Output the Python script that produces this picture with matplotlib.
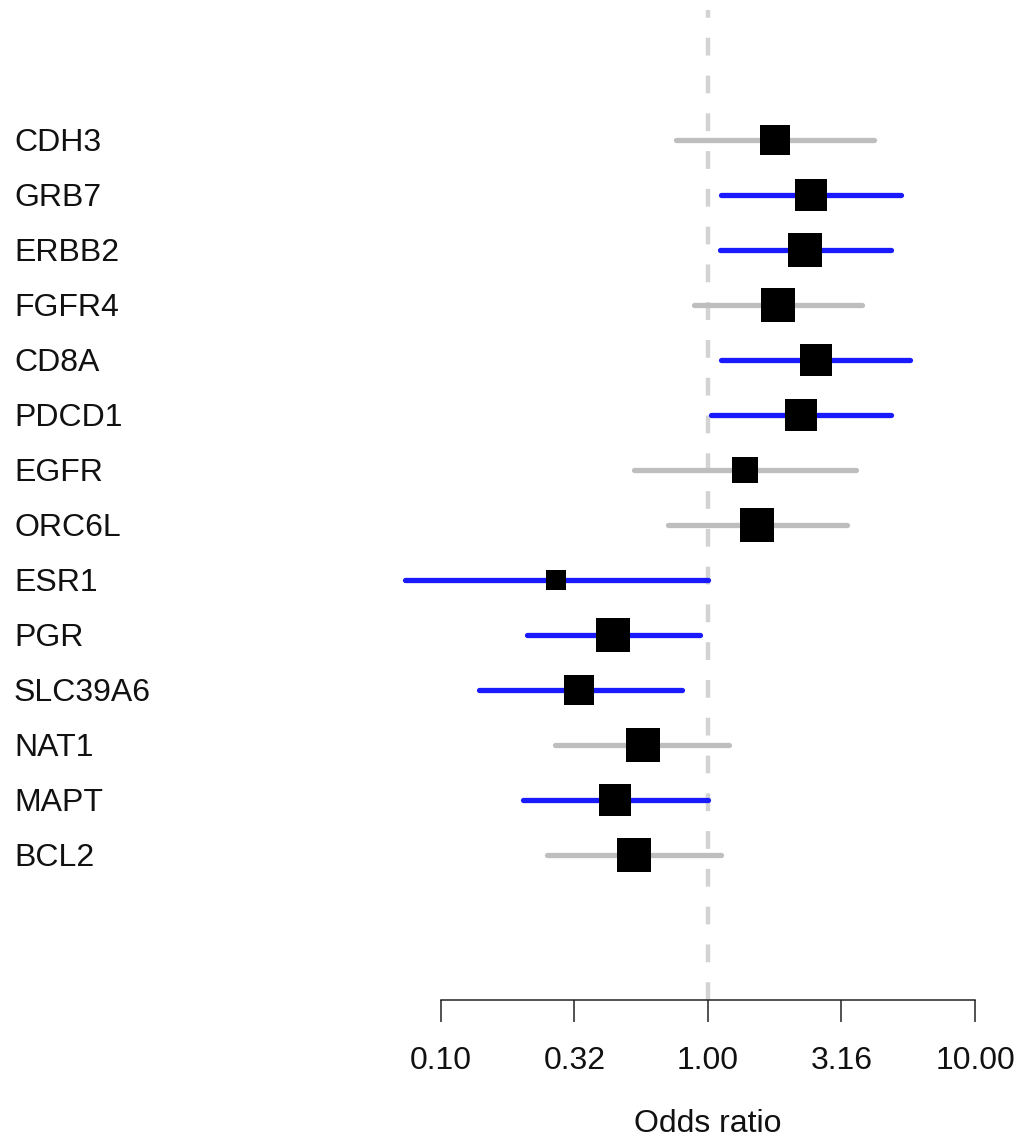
import matplotlib

matplotlib.use("Agg")
import matplotlib.pyplot as plt  # noqa: E402
import matplotlib.transforms as mtransforms  # noqa: E402

# forest plot data (odds ratio with 95% CI), top to bottom
genes = ["CDH3", "GRB7", "ERBB2", "FGFR4", "CD8A", "PDCD1", "EGFR",
         "ORC6L", "ESR1", "PGR", "SLC39A6", "NAT1", "MAPT", "BCL2"]
odds_ratio = [1.78, 2.43, 2.31, 1.83, 2.54, 2.23, 1.38,
              1.53, 0.27, 0.44, 0.33, 0.57, 0.45, 0.53]
ci_low = [0.76, 1.12, 1.11, 0.89, 1.12, 1.03, 0.53,
          0.71, 0.073, 0.21, 0.139, 0.267, 0.203, 0.249]
ci_high = [4.19, 5.28, 4.85, 3.77, 5.71, 4.85, 3.58,
           3.32, 1.00, 0.93, 0.80, 1.20, 1.00, 1.12]
box_px = [30, 32, 34, 34, 32, 32, 26, 34, 20, 34, 30, 34, 32, 34]
tick_values = [0.10, 0.316, 1.0, 3.16, 10.0]
tick_labels = ["0.10", "0.32", "1.00", "3.16", "10.00"]

plt.rcParams["font.family"] = ["Liberation Sans", "DejaVu Sans"]
FS = 23

W, H = 1022, 1141
fig = plt.figure(figsize=(W / 100, H / 100), dpi=100)

# axes frame in pixel terms
x0, x1 = 441, 975
y_top, y_bot = 10, 1000
ax = fig.add_axes([x0 / W, (H - y_bot) / H, (x1 - x0) / W, (y_bot - y_top) / H])
ax.set_xscale("log")
ax.set_xlim(0.1, 10)
row0, step = 140, 55
ax.set_ylim((y_bot - row0) / step, (y_top - row0) / step)

ax.axvline(1, color="#D3D3D3", lw=3.2, linestyle=(0, (4, 4.5)), zorder=1)

trans = mtransforms.blended_transform_factory(fig.transFigure, ax.transData)
for i, gene in enumerate(genes):
    significant = ci_high[i] <= 1.0 or ci_low[i] >= 1.0
    color = "#1a1aff" if significant else "#BEBEBE"
    ax.plot([ci_low[i], ci_high[i]], [i, i], color=color, lw=3.8,
            solid_capstyle="round", zorder=2, clip_on=False)
    ax.plot(odds_ratio[i], i, marker="s", color="black",
            markersize=box_px[i] * 0.72, markeredgewidth=0, zorder=3,
            clip_on=False)
    ax.text(14 / W, i + 0.06, gene, transform=trans, ha="left", va="center",
            fontsize=FS, color="#111111")

for side in ["top", "left", "right"]:
    ax.spines[side].set_visible(False)
ax.spines["bottom"].set_linewidth(1.1)
ax.spines["bottom"].set_color("#222222")
ax.set_yticks([])
ax.set_xticks(tick_values)
ax.set_xticklabels(tick_labels)
ax.minorticks_off()
ax.tick_params(axis="x", direction="out", length=16, width=1.1, color="#222222",
               pad=17, labelsize=FS, labelcolor="#111111")
ax.set_xlabel("Odds ratio", fontsize=FS, labelpad=24, color="#111111")

fig.savefig("out.png", dpi=100)
